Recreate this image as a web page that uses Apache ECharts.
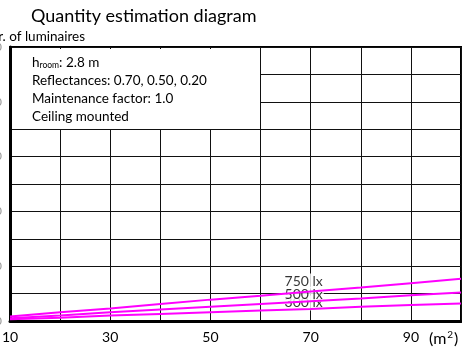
<!DOCTYPE html>
<html>
<head>
<meta charset="utf-8">
<script src="https://cdn.jsdelivr.net/npm/echarts@6/dist/echarts.min.js"></script>
<style>
html,body{margin:0;padding:0;background:#fff;}
#c{width:462px;height:347px;}
</style>
</head>
<body>
<div id="c"></div>
<script>
// Data
const areas = [10, 20, 30, 40, 50, 60, 70, 80, 90, 100];
const lux750 = [0.8, 1.6, 2.3, 3.1, 3.9, 4.6, 5.4, 6.1, 6.9, 7.7];
const lux500 = [0.5, 1.0, 1.6, 2.1, 2.6, 3.1, 3.6, 4.1, 4.7, 5.2];
const lux300 = [0.3, 0.6, 1.0, 1.3, 1.6, 1.9, 2.2, 2.6, 2.9, 3.2];
const seriesNames = ['750 lx', '500 lx', '300 lx'];
const xTickLabels = [10, 30, 50, 70, 90];
const yTickLabels = [0, 10, 20, 30, 40, 50];
const labelArea = 68.6;
const labelValues = [7.3, 4.9, 3.3];
const infoLines = ['Reflectances: 0.70, 0.50, 0.20', 'Maintenance factor: 1.0', 'Ceiling mounted'];

const FONT = 'Lato';
const chart = echarts.init(document.getElementById('c'));

function pairs(vals) { return areas.map((a, i) => [a, vals[i]]); }

const lineStyle = { color: '#ff00ff', width: 2 };
function lineSeries(name, vals) {
  return {
    name: name, type: 'line', data: pairs(vals), showSymbol: false, symbol: 'none',
    lineStyle: lineStyle, z: 4, animation: false, silent: true
  };
}

chart.setOption({
  animation: false,
  textStyle: { fontFamily: FONT },
  grid: {
    left: 10, right: 1, top: 47, bottom: 26,
    show: true, borderColor: '#000', borderWidth: 2,
    outerBoundsMode: 'none', containLabel: false
  },
  xAxis: {
    type: 'value', min: 10, max: 100, interval: 10,
    axisLine: { show: true, onZero: false, lineStyle: { color: '#000', width: 3 } },
    axisTick: { show: false },
    splitLine: { show: true, lineStyle: { color: '#111', width: 1 } },
    axisLabel: {
      showMaxLabel: false, color: '#000', fontSize: 14, fontFamily: FONT, margin: 9,
      formatter: v => xTickLabels.indexOf(v) >= 0 ? String(v) : ''
    }
  },
  yAxis: {
    type: 'value', min: 0, max: 50, interval: 5,
    axisLine: { show: true, onZero: false, lineStyle: { color: '#000', width: 3 } },
    axisTick: { show: false },
    splitLine: { show: true, lineStyle: { color: '#111', width: 1 } },
    axisLabel: {
      color: '#999', fontSize: 12, fontFamily: FONT, margin: 8,
      formatter: v => yTickLabels.indexOf(v) >= 0 ? String(v) : ''
    }
  },
  series: [
    lineSeries(seriesNames[0], lux750),
    lineSeries(seriesNames[1], lux500),
    lineSeries(seriesNames[2], lux300),
    {
      type: 'scatter', z: 3, symbolSize: 0, silent: true,
      data: [
        { value: [labelArea, labelValues[2]], name: seriesNames[2] },
        { value: [labelArea, labelValues[1]], name: seriesNames[1] },
        { value: [labelArea, labelValues[0]], name: seriesNames[0] }
      ],
      label: {
        show: true, position: 'inside', formatter: p => p.name,
        color: '#000', fontSize: 14, fontFamily: FONT,
        backgroundColor: '#fff', padding: [1, 1, 1, 1], lineHeight: 13
      }
    }
  ]
});

const p0 = chart.convertToPixel({ gridIndex: 0 }, [10, 50]);
const p1 = chart.convertToPixel({ gridIndex: 0 }, [60, 35]);
const bx = Math.round(p0[0]) + 2, by = Math.round(p0[1]) + 2;
const bx2 = Math.floor(p1[0]), by2 = Math.floor(p1[1]);

chart.setOption({
  graphic: [
    {
      type: 'rect', z: 10, silent: true,
      shape: { x: bx, y: by, width: bx2 - bx, height: by2 - by },
      style: { fill: '#fff', stroke: null }
    },
    {
      type: 'text', z: 11, x: 31, y: 16,
      style: { text: 'Quantity estimation diagram', font: '18px ' + FONT, fill: '#000', verticalAlign: 'middle' }
    },
    {
      type: 'text', z: 11, x: -12, y: 37,
      style: { text: 'Nr. of luminaires', font: '13.5px ' + FONT, fill: '#000', verticalAlign: 'middle' }
    },
    {
      type: 'text', z: 11, x: 32, y: 63,
      style: {
        text: '{a|h}{s|room}{a|: 2.8 m}', verticalAlign: 'middle', fill: '#000',
        rich: { a: { fontSize: 13.5, fontFamily: FONT, fill: '#000' }, s: { fontSize: 8.5, fontFamily: FONT, fill: '#000', verticalAlign: 'bottom', padding: [5, 0, 0, 0] } }
      }
    },
    {
      type: 'text', z: 11, x: 32, y: 81,
      style: { text: infoLines[0], font: '13.5px ' + FONT, fill: '#000', verticalAlign: 'middle' }
    },
    {
      type: 'text', z: 11, x: 32, y: 99,
      style: { text: infoLines[1], font: '13.5px ' + FONT, fill: '#000', verticalAlign: 'middle' }
    },
    {
      type: 'text', z: 11, x: 32, y: 117,
      style: { text: infoLines[2], font: '13.5px ' + FONT, fill: '#000', verticalAlign: 'middle' }
    },
    {
      type: 'text', z: 11, x: 429, y: 339,
      style: {
        text: '{a|(m}{s|2}{a|)}', verticalAlign: 'middle',
        rich: { a: { fontSize: 16, fontFamily: FONT, fill: '#000' }, s: { fontSize: 10, fontFamily: FONT, fill: '#000', padding: [0, 1, 9, 1] } }
      }
    }
  ]
});
</script>
</body>
</html>
